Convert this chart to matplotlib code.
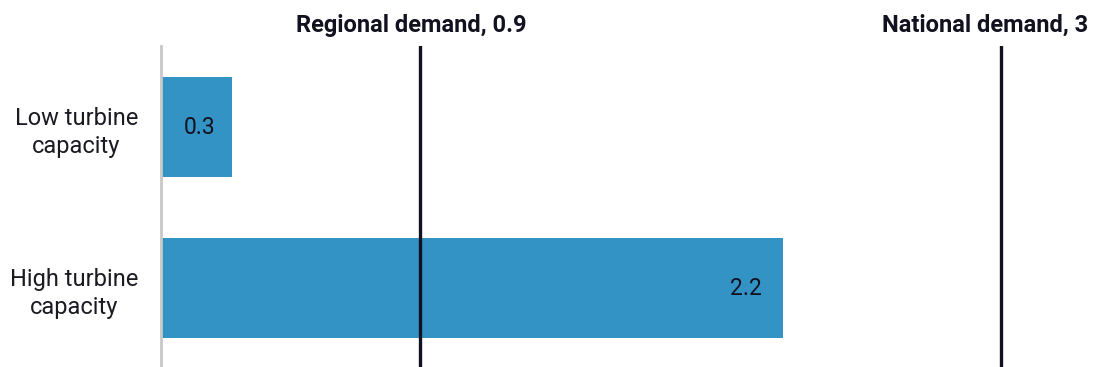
import matplotlib
matplotlib.use("Agg")
import matplotlib.pyplot as plt

categories = ["Low turbine\ncapacity", "High turbine\ncapacity"]
values = [0.254, 2.22]
demand_names = ["Regional demand", "National demand"]
demand_values = [0.925, 3.0]
demand_labels = ["0.9", "3"]

plt.rcParams["font.family"] = ["Roboto", "DejaVu Sans"]

fig = plt.figure(figsize=(10.94, 3.67), dpi=100)
ax = fig.add_axes([161 / 1094, 0, 933 / 1094, 321 / 367])

bar_color = "#3393c5"
ink = "#111120"

ypos = list(range(len(categories)))
ax.barh(ypos, values, height=0.62, color=bar_color, zorder=1)

for y, v in zip(ypos, values):
    txt = f"{v:.1f}"
    if v > 0.6:
        ax.annotate(txt, (v, y), xytext=(-15, 0), textcoords="offset points",
                    ha="right", va="center", fontsize=16.5, color=ink)
    else:
        ax.annotate(txt, (v / 2, y), xytext=(2, 0), textcoords="offset points",
                    ha="center", va="center", fontsize=16.5, color=ink)

offsets = [(-6, "center"), (63, "right")]
for name, v, lab, (dx, ha) in zip(demand_names, demand_values, demand_labels, offsets):
    ax.axvline(v, color=ink, linewidth=2.4, zorder=3)
    ax.annotate(f"{name}, {lab}", (v, 1), xycoords=("data", "axes fraction"),
                xytext=(dx, 15), textcoords="offset points",
                ha=ha, va="center", fontsize=17, fontweight="bold", color=ink,
                annotation_clip=False)

ax.set_xlim(0, 933 / 280)
ax.set_ylim(1.49, -0.503)
ax.set_yticks(ypos)
ax.set_yticklabels(categories, fontsize=17, color="#1a1a22",
                   multialignment="center", linespacing=1.3)
ax.tick_params(axis="y", length=0, pad=16.5)
ax.set_xticks([])
for s in ["top", "right", "bottom"]:
    ax.spines[s].set_visible(False)
ax.spines["left"].set_color("#c8c8c8")
ax.spines["left"].set_linewidth(2)

fig.savefig("out.png", dpi=100)
